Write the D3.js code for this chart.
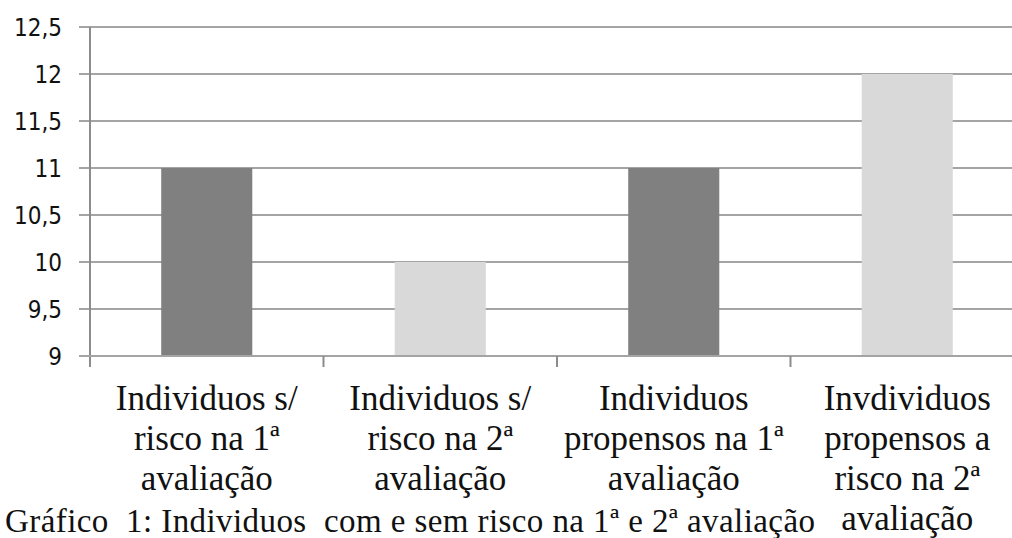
<!DOCTYPE html>
<html>
<head>
<meta charset="utf-8">
<script src="https://cdn.jsdelivr.net/npm/d3@7"></script>
<style>
  html, body { margin: 0; padding: 0; background: #fff; }
  #chart svg { display: block; }
</style>
</head>
<body>
<div id="chart"></div>
<script>
const categories = [
  ["Individuos s/", "risco na 1ª", "avaliação"],
  ["Individuos s/", "risco na 2ª", "avaliação"],
  ["Individuos", "propensos na 1ª", "avaliação"],
  ["Invdividuos", "propensos a", "risco na 2ª", "avaliação"]
];
const values = [11, 10, 11, 12];
const barColors = ["#808080", "#d9d9d9", "#808080", "#d9d9d9"];
const yTicks = [9, 9.5, 10, 10.5, 11, 11.5, 12, 12.5];
const caption = "Gráfico  1: Individuos  com e sem risco na 1ª e 2ª avaliação";

const width = 1012;
const height = 538;
const margin = { top: 27, right: -12, bottom: 182, left: 90 };

const svg = d3.select("#chart").append("svg")
  .attr("width", width)
  .attr("height", height)
  .style("background", "white");

const ids = categories.map((d, i) => i);

const x = d3.scaleBand()
  .domain(ids)
  .range([margin.left, width - margin.right])
  .padding(0);

const y = d3.scaleLinear()
  .domain([9, 12.5])
  .range([height - margin.bottom, margin.top]);

const gridColor = "#a4a4a4";

// gridlines
svg.append("g")
  .selectAll("line")
  .data(yTicks)
  .join("line")
  .attr("x1", margin.left - 11)
  .attr("x2", width)
  .attr("y1", d => y(d))
  .attr("y2", d => y(d))
  .attr("stroke", gridColor)
  .attr("stroke-width", 2);

// bars
const barW = x.bandwidth() * 0.39;
svg.append("g")
  .selectAll("rect")
  .data(values)
  .join("rect")
  .attr("x", (d, i) => x(i) + (x.bandwidth() - barW) / 2)
  .attr("y", d => y(d))
  .attr("width", barW)
  .attr("height", d => y(9) - y(d))
  .attr("fill", (d, i) => barColors[i]);

// y axis
const yAxis = svg.append("g")
  .attr("transform", `translate(${margin.left},0)`)
  .call(d3.axisLeft(y).tickValues(yTicks).tickSize(11).tickPadding(17)
    .tickFormat(d => String(d).replace(".", ",")));
yAxis.select(".domain").remove();
yAxis.selectAll(".tick line").remove();
yAxis.selectAll("text")
  .attr("font-family", "'DejaVu Sans Condensed', 'Liberation Sans', sans-serif")
  .attr("font-size", 24)
  .attr("fill", "#111")
  .attr("dy", "0.36em");
svg.append("line")
  .attr("x1", margin.left).attr("x2", margin.left)
  .attr("y1", margin.top).attr("y2", y(9) + 11)
  .attr("stroke", "#8c8c8c").attr("stroke-width", 2);

// x axis
const xAxis = svg.append("g")
  .attr("transform", `translate(0,${y(9)})`);
xAxis.append("line")
  .attr("x1", margin.left - 11).attr("x2", width)
  .attr("stroke", gridColor).attr("stroke-width", 2);
xAxis.selectAll("line.tick")
  .data(ids.slice(1))
  .join("line")
  .attr("class", "tick")
  .attr("x1", d => x(d)).attr("x2", d => x(d))
  .attr("y1", 0).attr("y2", 11)
  .attr("stroke", "#8c8c8c").attr("stroke-width", 2);

// category labels
const labels = svg.append("g")
  .selectAll("text")
  .data(categories)
  .join("text")
  .attr("x", (d, i) => x(i) + x.bandwidth() / 2)
  .attr("y", 410)
  .attr("text-anchor", "middle")
  .attr("font-family", "'Liberation Serif', 'Times New Roman', serif")
  .attr("font-size", 35)
  .attr("fill", "#111");
labels.selectAll("tspan")
  .data(d => d)
  .join("tspan")
  .attr("x", function () { return d3.select(this.parentNode).attr("x"); })
  .attr("dy", (d, i) => i === 0 ? 0 : 40)
  .text(d => d);

// caption
svg.append("text")
  .attr("x", 5)
  .attr("y", 532)
  .attr("font-family", "'Liberation Serif', 'Times New Roman', serif")
  .attr("font-size", 33)
  .attr("fill", "#111")
  .attr("textLength", 810)
  .attr("lengthAdjust", "spacing")
  .style("white-space", "pre")
  .text(caption);
</script>
</body>
</html>
